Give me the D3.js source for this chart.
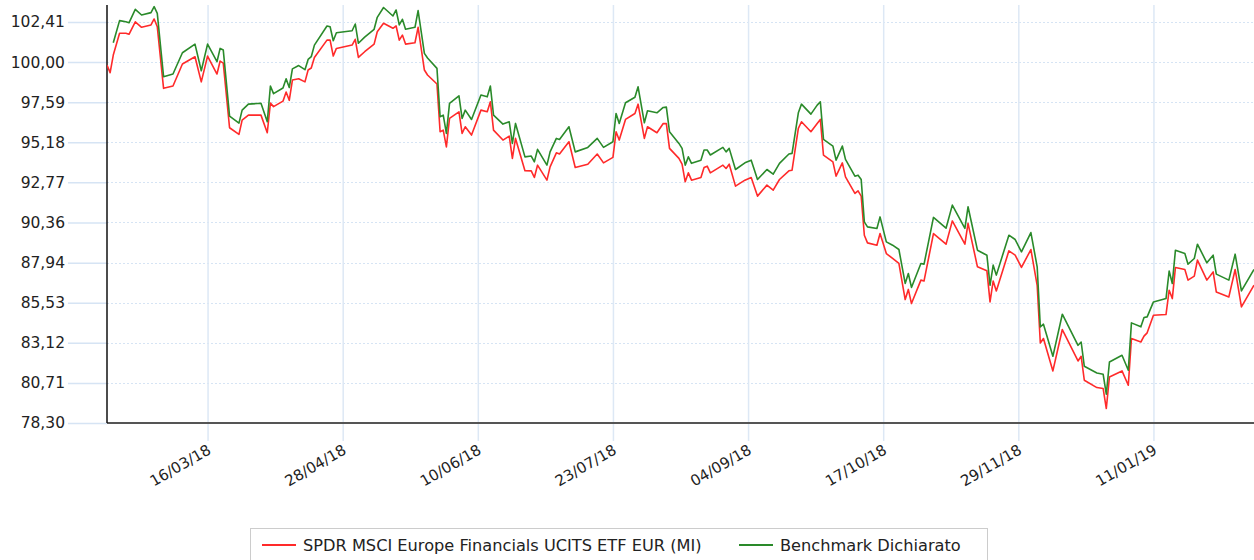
<!DOCTYPE html>
<html>
<head>
<meta charset="utf-8">
<script src="https://cdnjs.cloudflare.com/ajax/libs/d3/7.8.5/d3.min.js"></script>
<style>
  body { margin: 0; background: #fff; }
  svg { display: block; font-family: "DejaVu Sans", Verdana, sans-serif; }
</style>
</head>
<body>
<svg id="chart" width="1254" height="560"></svg>
<script>
// data
var dates = ["2018-02-12","2018-02-13","2018-02-14","2018-02-16","2018-02-18","2018-02-19","2018-02-21","2018-02-23","2018-02-26","2018-02-27",
  "2018-02-28","2018-03-02","2018-03-05","2018-03-08","2018-03-12","2018-03-14","2018-03-16","2018-03-19","2018-03-20","2018-03-21",
  "2018-03-23","2018-03-26","2018-03-27","2018-03-29","2018-04-02","2018-04-04","2018-04-05","2018-04-06","2018-04-09","2018-04-10",
  "2018-04-11","2018-04-12","2018-04-14","2018-04-16","2018-04-17","2018-04-18","2018-04-19","2018-04-23","2018-04-24","2018-04-25",
  "2018-04-26","2018-05-01","2018-05-02","2018-05-03","2018-05-05","2018-05-08","2018-05-09","2018-05-11","2018-05-14","2018-05-15",
  "2018-05-16","2018-05-17","2018-05-18","2018-05-21","2018-05-22","2018-05-24","2018-05-25","2018-05-28","2018-05-29","2018-05-30",
  "2018-05-31","2018-06-01","2018-06-04","2018-06-05","2018-06-06","2018-06-08","2018-06-11","2018-06-13","2018-06-14","2018-06-15",
  "2018-06-18","2018-06-20","2018-06-21","2018-06-22","2018-06-25","2018-06-27","2018-06-28","2018-06-29","2018-07-02","2018-07-03",
  "2018-07-05","2018-07-06","2018-07-09","2018-07-11","2018-07-15","2018-07-18","2018-07-20","2018-07-23","2018-07-24","2018-07-25",
  "2018-07-27","2018-07-30","2018-07-31","2018-08-02","2018-08-03","2018-08-06","2018-08-08","2018-08-09","2018-08-10","2018-08-13",
  "2018-08-14","2018-08-15","2018-08-16","2018-08-17","2018-08-20","2018-08-21","2018-08-22","2018-08-23","2018-08-27","2018-08-28",
  "2018-08-29","2018-08-31","2018-09-03","2018-09-05","2018-09-07","2018-09-10","2018-09-12","2018-09-14","2018-09-17","2018-09-18",
  "2018-09-20","2018-09-21","2018-09-24","2018-09-26","2018-09-27","2018-09-28","2018-10-01","2018-10-02","2018-10-04","2018-10-05",
  "2018-10-08","2018-10-09","2018-10-10","2018-10-11","2018-10-12","2018-10-15","2018-10-16","2018-10-18","2018-10-20","2018-10-22",
  "2018-10-24","2018-10-25","2018-10-26","2018-10-29","2018-10-30","2018-11-02","2018-11-06","2018-11-08","2018-11-12","2018-11-13",
  "2018-11-16","2018-11-19","2018-11-20","2018-11-21","2018-11-22","2018-11-26","2018-11-28","2018-11-30","2018-12-03","2018-12-05",
  "2018-12-06","2018-12-07","2018-12-10","2018-12-13","2018-12-18","2018-12-19","2018-12-20","2018-12-24","2018-12-26","2018-12-27",
  "2018-12-28","2019-01-01","2019-01-03","2019-01-04","2019-01-07","2019-01-08","2019-01-09","2019-01-11","2019-01-15","2019-01-16",
  "2019-01-17","2019-01-18","2019-01-21","2019-01-22","2019-01-24","2019-01-25","2019-01-28","2019-01-30","2019-01-31","2019-02-04",
  "2019-02-06","2019-02-08","2019-02-12"];

var fund = [99.82, 99.36, 100.42, 101.73, 101.73, 101.67, 102.42, 102.09, 102.23, 102.59,
  102.12, 98.42, 98.56, 99.88, 100.32, 98.81, 100.36, 99.28, 100.06, 99.94,
  96.05, 95.65, 96.51, 96.81, 96.81, 95.75, 97.53, 97.32, 97.65, 98.20,
  97.70, 98.92, 99.00, 98.81, 99.52, 99.64, 100.27, 101.32, 101.32, 100.36,
  100.82, 101.02, 101.37, 100.28, 100.62, 101.08, 101.82, 102.33, 102.03, 102.17,
  101.32, 101.62, 101.08, 101.16, 102.09, 99.52, 99.22, 98.68, 95.81, 95.91,
  94.90, 96.61, 97.01, 95.71, 96.11, 95.61, 97.11, 97.01, 97.61, 95.91,
  95.31, 95.55, 94.21, 95.41, 93.47, 93.46, 93.06, 93.80, 92.90, 93.70,
  94.54, 94.47, 95.21, 93.66, 93.86, 94.47, 93.94, 94.27, 95.81, 95.31,
  96.55, 96.91, 97.47, 95.41, 96.11, 95.75, 96.31, 96.30, 94.81, 94.21,
  93.86, 92.80, 93.34, 92.90, 93.06, 93.66, 93.74, 93.34, 93.80, 93.60,
  93.86, 92.54, 92.90, 93.06, 91.94, 92.60, 92.30, 92.94, 93.46, 93.50,
  96.01, 96.41, 95.81, 96.31, 96.55, 94.40, 94.00, 93.14, 93.94, 93.10,
  92.10, 92.26, 91.94, 89.59, 89.13, 88.99, 89.69, 88.49, 88.19, 87.89,
  85.72, 86.33, 85.48, 86.89, 86.84, 89.69, 89.05, 90.45, 89.05, 90.30,
  87.69, 87.45, 85.58, 86.84, 86.24, 88.65, 88.39, 87.65, 88.73, 86.58,
  83.11, 83.38, 81.43, 83.92, 82.03, 82.31, 80.87, 80.43, 80.37, 79.17,
  81.07, 81.43, 80.57, 83.38, 83.17, 83.52, 83.72, 84.78, 84.82, 86.28,
  85.78, 87.65, 87.53, 86.89, 87.13, 88.09, 86.89, 87.38, 86.18, 85.88,
  87.53, 85.28, 86.58];

var bench = [null, null, 101.16, 102.49, 102.42, 102.36, 103.17, 102.83, 102.97, 103.33,
  102.93, 99.12, 99.28, 100.56, 101.08, 99.48, 101.08, 100.02, 100.82, 100.72,
  96.75, 96.33, 97.11, 97.47, 97.52, 96.41, 98.56, 98.10, 98.44, 98.99,
  98.47, 99.59, 99.79, 99.54, 100.16, 100.32, 101.02, 102.17, 102.12, 101.28,
  101.76, 101.88, 102.29, 101.13, 101.50, 101.97, 102.69, 103.28, 102.77, 103.13,
  102.23, 102.57, 101.97, 102.09, 103.09, 100.52, 100.24, 99.62, 96.71, 96.81,
  95.71, 97.52, 97.97, 96.61, 97.11, 96.55, 98.02, 97.91, 98.56, 96.81,
  96.27, 96.41, 95.11, 96.31, 94.30, 94.35, 94.00, 94.75, 93.80, 94.60,
  95.41, 95.35, 96.11, 94.60, 94.87, 95.41, 94.87, 95.21, 96.91, 96.31,
  97.55, 97.88, 98.51, 96.35, 97.07, 96.95, 97.27, 97.29, 95.81, 95.11,
  94.81, 93.80, 94.30, 93.91, 94.10, 94.71, 94.71, 94.41, 94.87, 94.60,
  94.81, 93.54, 93.94, 94.10, 92.94, 93.54, 93.26, 93.91, 94.47, 94.51,
  96.95, 97.47, 96.87, 97.41, 97.61, 95.35, 94.95, 94.10, 94.95, 94.15,
  93.14, 93.20, 92.94, 90.39, 90.09, 89.99, 90.69, 89.19, 88.99, 88.73,
  86.69, 87.29, 86.45, 87.89, 87.85, 90.66, 90.01, 91.40, 90.00, 91.30,
  88.69, 88.39, 86.58, 87.79, 87.19, 89.59, 89.33, 88.59, 89.75, 87.69,
  84.08, 84.24, 82.31, 84.84, 82.97, 83.17, 81.71, 81.31, 81.23, 80.03,
  81.97, 82.37, 81.47, 84.32, 84.08, 84.64, 84.68, 85.58, 85.78, 87.44,
  86.69, 88.69, 88.49, 87.85, 88.19, 89.05, 87.93, 88.39, 87.25, 86.89,
  88.45, 86.24, 87.53];

var yTicks = [78.30, 80.71, 83.12, 85.53, 87.94, 90.36, 92.77, 95.18, 97.59, 100.00, 102.41];
var xTicks = ["16/03/18", "28/04/18", "10/06/18", "23/07/18", "04/09/18", "17/10/18", "29/11/18", "11/01/19"];
var seriesNames = ["SPDR MSCI Europe Financials UCITS ETF EUR (MI)", "Benchmark Dichiarato"];
var seriesColors = ["#ff2a2a", "#2a8a2a"];

var parseIso = d3.timeParse("%Y-%m-%d");
var parseTick = d3.timeParse("%d/%m/%y");

// plot box (names avoid window.top)
var plotLeft = 107, plotRight = 1254, plotTop = 5, plotBottom = 423;

var svg = d3.select("#chart");

var x = d3.scaleTime()
  .domain([parseIso("2018-02-12"), parseIso("2019-02-12")])
  .range([plotLeft, plotRight]);

var y = d3.scaleLinear()
  .domain([78.30, 103.43])
  .range([plotBottom, plotTop]);

// horizontal grid, dotted inside the plot
svg.append("g")
  .selectAll("line")
  .data(yTicks)
  .join("line")
  .attr("x1", plotLeft)
  .attr("x2", plotRight)
  .attr("y1", d => Math.round(y(d)) + 0.5)
  .attr("y2", d => Math.round(y(d)) + 0.5)
  .attr("stroke", "#d6e4f4")
  .attr("stroke-dasharray", "2,2");

// y axis: light blue ticks out to the left
var yAxis = svg.append("g")
  .attr("transform", "translate(" + plotLeft + ",0)")
  .call(d3.axisLeft(y)
    .tickValues(yTicks)
    .tickSize(39)
    .tickPadding(3)
    .tickFormat(d => d.toFixed(2).replace(".", ",")));
yAxis.select(".domain").remove();
yAxis.selectAll(".tick line").attr("stroke", "#d6e4f4").attr("stroke-width", 1.5);
yAxis.selectAll(".tick text")
  .attr("fill", "#222")
  .style("font-size", "15.5px")
  .style("font-family", "DejaVu Sans, Verdana, sans-serif");

// x axis: vertical grid lines from the top down past the axis
var xAxis = svg.append("g")
  .attr("transform", "translate(0," + plotBottom + ")")
  .call(d3.axisBottom(x)
    .tickValues(xTicks.map(parseTick))
    .tickSize(18)
    .tickFormat(d3.timeFormat("%d/%m/%y")));
xAxis.select(".domain").remove();
xAxis.selectAll(".tick line")
  .attr("y1", plotTop - plotBottom)
  .attr("stroke", "#dde8f5")
  .attr("stroke-width", 1.5);
xAxis.selectAll(".tick text")
  .attr("fill", "#222")
  .style("font-size", "15px")
  .style("font-family", "DejaVu Sans, Verdana, sans-serif")
  .attr("text-anchor", "end")
  .attr("dy", null)
  .attr("y", 0)
  .attr("transform", "translate(4,30) rotate(-30)");

// axis lines
svg.append("line")
  .attr("x1", plotLeft).attr("x2", plotRight)
  .attr("y1", plotBottom).attr("y2", plotBottom)
  .attr("stroke", "#555").attr("stroke-width", 2);
svg.append("line")
  .attr("x1", plotLeft).attr("x2", plotLeft)
  .attr("y1", plotTop).attr("y2", plotBottom)
  .attr("stroke", "#111").attr("stroke-width", 1.5);

// series
var rows = dates.map(function(d, i) {
  return { date: parseIso(d), fund: fund[i], bench: bench[i] };
});

svg.append("clipPath").attr("id", "plotclip")
  .append("rect")
  .attr("x", plotLeft).attr("y", 0)
  .attr("width", plotRight - plotLeft).attr("height", plotBottom);

[["fund", 0], ["bench", 1]].forEach(function(s) {
  var key = s[0];
  var line = d3.line()
    .defined(d => d[key] != null)
    .x(d => x(d.date))
    .y(d => y(d[key]));
  svg.append("path")
    .datum(rows)
    .attr("clip-path", "url(#plotclip)")
    .attr("fill", "none")
    .attr("stroke", seriesColors[s[1]])
    .attr("stroke-width", 1.6)
    .attr("stroke-linejoin", "round")
    .attr("d", line);
});

// legend
var legend = svg.append("g");
legend.append("rect")
  .attr("x", 250.5).attr("y", 528.5)
  .attr("width", 737).attr("height", 40)
  .attr("fill", "#fff").attr("stroke", "#ccc");
var legendX = [262, 739];
seriesNames.forEach(function(name, i) {
  legend.append("line")
    .attr("x1", legendX[i]).attr("x2", legendX[i] + 34)
    .attr("y1", 545).attr("y2", 545)
    .attr("stroke", seriesColors[i]).attr("stroke-width", 2);
  legend.append("text")
    .attr("x", legendX[i] + 41).attr("y", 550.5)
    .attr("fill", "#222")
    .style("font-size", "16.2px")
    .text(name);
});
</script>
</body>
</html>
